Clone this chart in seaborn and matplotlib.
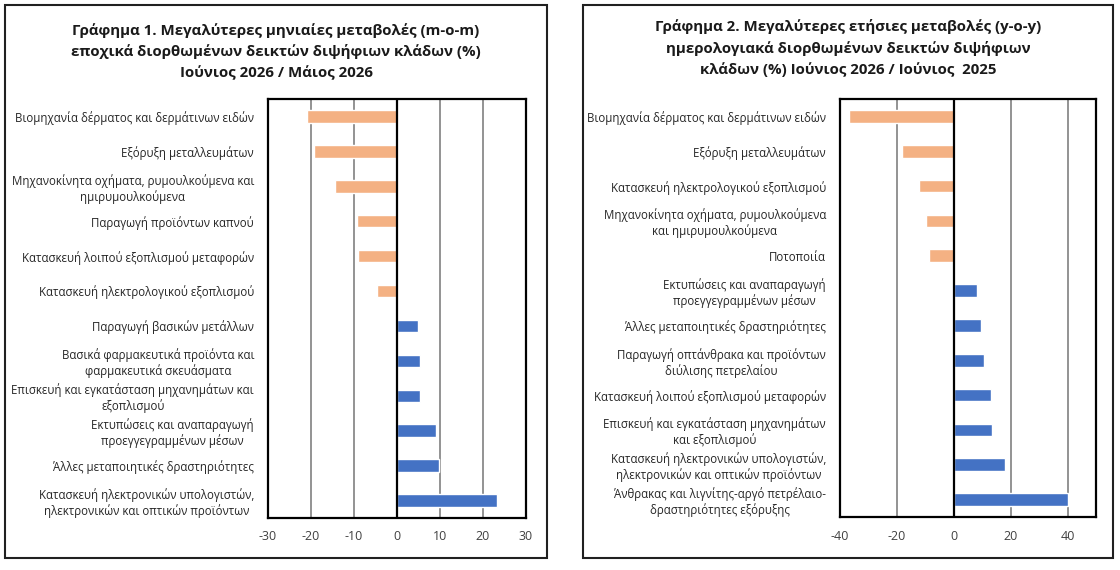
import matplotlib
matplotlib.use("Agg")
import matplotlib.pyplot as plt
import seaborn as sns
import pandas as pd
from matplotlib.patches import Rectangle

# chart 1: month-on-month
labels_mom = [
    "Βιομηχανία δέρματος και δερμάτινων ειδών",
    "Εξόρυξη μεταλλευμάτων",
    "Μηχανοκίνητα οχήματα, ρυμουλκούμενα και\nημιρυμουλκούμενα",
    "Παραγωγή προϊόντων καπνού",
    "Κατασκευή λοιπού εξοπλισμού μεταφορών",
    "Κατασκευή ηλεκτρολογικού εξοπλισμού",
    "Παραγωγή βασικών μετάλλων",
    "Βασικά φαρμακευτικά προϊόντα και\nφαρμακευτικά σκευάσματα",
    "Επισκευή και εγκατάσταση μηχανημάτων και\nεξοπλισμού",
    "Εκτυπώσεις και αναπαραγωγή\nπροεγγεγραμμένων μέσων",
    "Άλλες μεταποιητικές δραστηριότητες",
    "Κατασκευή ηλεκτρονικών υπολογιστών,\nηλεκτρονικών και οπτικών προϊόντων",
]
values_mom = [-21.0, -19.2, -14.5, -9.4, -9.1, -4.6, 4.9, 5.4, 5.4, 9.1, 9.8, 23.3]

# chart 2: year-on-year
labels_yoy = [
    "Βιομηχανία δέρματος και δερμάτινων ειδών",
    "Εξόρυξη μεταλλευμάτων",
    "Κατασκευή ηλεκτρολογικού εξοπλισμού",
    "Μηχανοκίνητα οχήματα, ρυμουλκούμενα\nκαι ημιρυμουλκούμενα",
    "Ποτοποιία",
    "Εκτυπώσεις και αναπαραγωγή\nπροεγγεγραμμένων μέσων",
    "Άλλες μεταποιητικές δραστηριότητες",
    "Παραγωγή οπτάνθρακα και προϊόντων\nδιύλισης πετρελαίου",
    "Κατασκευή λοιπού εξοπλισμού μεταφορών",
    "Επισκευή και εγκατάσταση μηχανημάτων\nκαι εξοπλισμού",
    "Κατασκευή ηλεκτρονικών υπολογιστών,\nηλεκτρονικών και οπτικών προϊόντων",
    "Άνθρακας και λιγνίτης-αργό πετρέλαιο-\nδραστηριότητες εξόρυξης",
]
values_yoy = [-36.7, -18.1, -12.3, -9.8, -8.6, 8.2, 9.7, 10.7, 13.0, 13.5, 17.9, 40.0]

title_mom = ("Γράφημα 1. Μεγαλύτερες μηνιαίες μεταβολές (m-o-m)\n"
             "εποχικά διορθωμένων δεικτών διψήφιων κλάδων (%)\n"
             "Ιούνιος 2026 / Μάιος 2026")
title_yoy = ("Γράφημα 2. Μεγαλύτερες ετήσιες μεταβολές (y-o-y)\n"
             "ημερολογιακά διορθωμένων δεικτών διψήφιων\n"
             "κλάδων (%) Ιούνιος 2026 / Ιούνιος  2025")

ticks_mom = [-30, -20, -10, 0, 10, 20, 30]
ticks_yoy = [-40, -20, 0, 20, 40]

ORANGE = "#F4B183"
BLUE = "#4472C4"

sns.set_theme(style="white")
plt.rcParams["font.family"] = ["Open Sans", "DejaVu Sans"]

fig = plt.figure(figsize=(11.2, 5.7), dpi=100)
W, H = 1120, 570


def px_rect(x0, y0, x1, y1):
    return [x0 / W, 1 - y1 / H, (x1 - x0) / W, (y1 - y0) / H]


def draw_panel(ax, labels, values, ticks, xlim):
    df = pd.DataFrame({"label": labels, "value": values})
    df["sign"] = ["neg" if v < 0 else "pos" for v in values]
    sns.barplot(data=df, x="value", y="label", hue="sign", orient="h",
                palette={"neg": ORANGE, "pos": BLUE}, dodge=False,
                width=0.36, legend=False, ax=ax, saturation=1)
    ax.set_xlim(*xlim)
    ax.set_xticks(ticks)
    ax.set_xticklabels([str(t) for t in ticks], fontsize=9, color="#404040")
    for t in ticks:
        if t != 0 and xlim[0] < t < xlim[1]:
            ax.axvline(t, color="#808080", lw=1.2, zorder=0)
    ax.axvline(0, color="black", lw=1.6, zorder=3)
    ax.set_xlabel("")
    ax.set_ylabel("")
    ax.tick_params(axis="both", length=0)
    ax.tick_params(axis="x", pad=9)
    ax.tick_params(axis="y", pad=10)
    for lab in ax.get_yticklabels():
        lab.set_fontsize(8.3)
        lab.set_color("#262626")
        lab.set_multialignment("center")
    for s in ax.spines.values():
        s.set_visible(True)
        s.set_color("black")
        s.set_linewidth(1.6)


ax1 = fig.add_axes(px_rect(268, 99, 526, 518))
draw_panel(ax1, labels_mom, values_mom, ticks_mom, (-30, 30))
ax2 = fig.add_axes(px_rect(840, 99, 1096, 517))
draw_panel(ax2, labels_yoy, values_yoy, ticks_yoy, (-40, 50))

# outer frames around each chart
for x0, x1 in [(5, 547), (583, 1113)]:
    r = px_rect(x0, 5, x1, 558)
    fig.patches.append(Rectangle((r[0], r[1]), r[2], r[3], transform=fig.transFigure,
                                 fill=False, edgecolor="#202020", lw=1.5))

fig.text(276 / W, 1 - 23 / H, title_mom, ha="center", va="top", fontsize=10.8,
         fontweight="bold", color="#1a1a1a", linespacing=1.55)
fig.text(848 / W, 1 - 19 / H, title_yoy, ha="center", va="top", fontsize=10.8,
         fontweight="bold", color="#1a1a1a", linespacing=1.55)

fig.savefig("out.png", dpi=100)
